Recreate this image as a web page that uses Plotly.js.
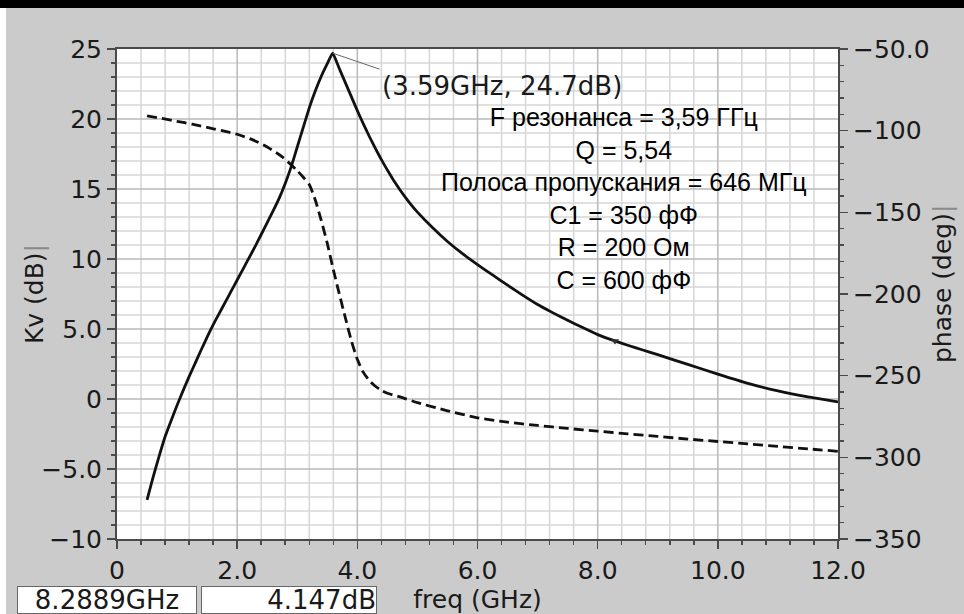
<!DOCTYPE html>
<html>
<head>
<meta charset="utf-8">
<script src="https://cdn.plot.ly/plotly-3.0.1.min.js"></script>
<style>
html,body{margin:0;padding:0;background:#cbcbcb;}
#wrap{position:relative;width:964px;height:614px;overflow:hidden;}
#chart{width:964px;height:614px;}
.topbar{position:absolute;left:0;top:0;width:964px;height:8px;background:#000;}
.leftstrip{position:absolute;left:0;top:8px;width:6px;height:606px;background:#fff;}
</style>
</head>
<body>
<div id="wrap"><div id="chart"></div><div class="topbar"></div><div class="leftstrip"></div></div>
<script>
// Gain curve Kv (dB) vs frequency (GHz)
const freqKv = [0.5,0.6,0.7,0.8,0.9,1.0,1.1,1.2,1.3,1.4,1.5,1.6,1.7,1.8,1.9,2.0,2.1,2.2,2.3,2.4,2.5,2.6,2.7,2.8,2.9,3.0,3.1,3.2,3.3,3.4,3.5,3.59,3.7,3.8,3.9,4.0,4.1,4.2,4.3,4.4,4.5,4.6,4.7,4.8,4.9,5.0,5.25,5.5,5.75,6.0,6.25,6.5,6.75,7.0,7.25,7.5,7.75,8.0,8.2889,8.5,8.75,9.0,9.5,10.0,10.5,11.0,11.5,12.0];
const kvDb   = [-7.2,-5.6,-4.1,-2.7,-1.55,-0.45,0.6,1.6,2.55,3.5,4.42,5.3,6.1,6.9,7.7,8.5,9.3,10.1,10.9,11.75,12.6,13.45,14.35,15.4,16.6,18.0,19.4,20.8,22.0,23.05,23.95,24.7,23.6,22.6,21.6,20.6,19.65,18.75,17.9,17.1,16.35,15.65,15.0,14.4,13.85,13.35,12.25,11.25,10.38,9.6,8.86,8.13,7.42,6.75,6.17,5.62,5.1,4.6,4.147,3.84,3.5,3.17,2.47,1.78,1.12,0.58,0.15,-0.2];
// Phase (deg) vs frequency (GHz)
const freqPh   = [0.5,0.75,1.0,1.25,1.5,1.75,2.0,2.25,2.5,2.75,3.0,3.1,3.2,3.3,3.4,3.5,3.6,3.7,3.8,3.9,4.0,4.1,4.2,4.3,4.4,4.5,4.71,5.0,5.5,6.0,6.5,7.0,7.5,8.0,8.5,9.0,9.5,10.0,10.5,11.0,11.5,12.0];
const phaseDeg = [-91,-92.5,-94.3,-96,-98,-100,-102.2,-105.5,-110,-116,-124.5,-128.5,-133,-142.5,-155,-169,-185,-200,-214.5,-228.5,-240,-248,-253,-256.5,-259,-260.8,-263,-266.5,-271.5,-275.8,-278.5,-280.5,-282.3,-284,-285.6,-287.2,-288.8,-290.3,-291.8,-293.3,-294.8,-296.3];
// Peak and cursor
const peakFreq = 3.59, peakKv = 24.7;
const cursorFreq = 8.2889, cursorKv = 4.147;
// Tick labels
const xTickVals = [0,2,4,6,8,10,12];
const xTickText = ["0","2.0","4.0","6.0","8.0","10.0","12.0"];
const yTickVals = [-10,-5,0,5,10,15,20,25];
const yTickText = ["\u221210","\u22125.0","0","5.0","10","15","20","25"];
const y2TickVals = [-350,-300,-250,-200,-150,-100,-50];
const y2TickText = ["\u2212350","\u2212300","\u2212250","\u2212200","\u2212150","\u2212100","\u221250.0"];
const infoLines = ["F резонанса = 3,59 ГГц","Q = 5,54","Полоса пропускания = 646 МГц","C1 = 350 фФ","R = 200 Ом","C = 600 фФ"];

const X_RANGE = [0, 12], Y_RANGE = [-10, 25], Y2_RANGE = [-350, -50];
const X_MINOR = 0.4, X_MAJOR = 2, Y_MINOR = 1, Y_MAJOR = 5;

function aliasMap(vals, texts) {
  const m = {};
  vals.forEach((v, i) => { m[String(v).replace("-", "\u2212")] = texts[i]; });
  return m;
}

const VF = "DejaVu Sans, Verdana, sans-serif";
const TXT = "#1a1a1a";
const AX = "#4a4a4a";
const GRID_MAJOR = "#b9b9b9";
const GRID_MINOR = "#d6d6d6";

// background + grid drawn as layout decorations derived from the axis spacing
const shapes = [{type: "rect", xref: "paper", yref: "paper", x0: 0, x1: 1, y0: 0, y1: 1, layer: "below", fillcolor: "#ffffff", line: {width: 0}}];
const gridMinor = [], gridMajor = [];
const nx = Math.round((X_RANGE[1] - X_RANGE[0]) / X_MINOR);
for (let i = 1; i < nx; i++) {
  const v = +(X_RANGE[0] + i * X_MINOR).toFixed(6);
  const major = Math.abs(v / X_MAJOR - Math.round(v / X_MAJOR)) < 1e-6;
  (major ? gridMajor : gridMinor).push({type: "line", xref: "x", yref: "paper", x0: v, x1: v, y0: 0, y1: 1, layer: "below",
    line: {color: major ? GRID_MAJOR : GRID_MINOR, width: 1.5}});
}
const ny = Math.round((Y_RANGE[1] - Y_RANGE[0]) / Y_MINOR);
for (let i = 1; i < ny; i++) {
  const v = Y_RANGE[0] + i * Y_MINOR;
  const major = v % Y_MAJOR === 0;
  (major ? gridMajor : gridMinor).push({type: "line", xref: "paper", yref: "y", x0: 0, x1: 1, y0: v, y1: v, layer: "below",
    line: {color: major ? GRID_MAJOR : GRID_MINOR, width: 1.5}});
}
shapes.push(...gridMinor, ...gridMajor);

const traces = [
  {x: freqKv, y: kvDb, type: "scatter", mode: "lines", line: {color: "#111", width: 2.8, shape: "spline", smoothing: 0.4}, yaxis: "y", hoverinfo: "skip"},
  {x: freqPh, y: phaseDeg, type: "scatter", mode: "lines", line: {color: "#111", width: 2.8, dash: "10px,5px", shape: "spline", smoothing: 0.6}, yaxis: "y2", hoverinfo: "skip"},
  {x: [cursorFreq], y: [cursorKv], type: "scatter", mode: "markers", marker: {symbol: "triangle-down", size: 7, color: "#333"}, yaxis: "y", hoverinfo: "skip"}
];

const layout = {
  width: 964, height: 614,
  paper_bgcolor: "#cbcbcb",
  plot_bgcolor: "rgba(0,0,0,0)",
  showlegend: false,
  margin: {l: 117, r: 126, t: 49, b: 75, pad: 0},
  font: {family: VF, color: TXT, size: 25},
  shapes: shapes,
  xaxis: {
    range: X_RANGE, tickmode: "linear", tick0: 0, dtick: X_MAJOR, labelalias: aliasMap(xTickVals, xTickText),
    ticks: "outside", ticklen: 8, tickwidth: 1.5, tickcolor: AX,
    showline: true, linecolor: AX, linewidth: 2, mirror: true,
    showgrid: false, zeroline: false,
    minor: {tickmode: "linear", tick0: 0, dtick: X_MINOR, ticklen: 4, tickcolor: AX, showgrid: false},
    tickfont: {family: VF, size: 25, color: TXT},
    title: {text: "freq (GHz)", font: {family: VF, size: 25, color: TXT}, standoff: 4}
  },
  yaxis: {
    range: Y_RANGE, tickmode: "linear", tick0: 0, dtick: Y_MAJOR, labelalias: aliasMap(yTickVals, yTickText),
    ticks: "outside", ticklen: 8, tickwidth: 1.5, tickcolor: AX,
    showline: true, linecolor: AX, linewidth: 2,
    showgrid: false, zeroline: false,
    minor: {tickmode: "linear", tick0: 0, dtick: Y_MINOR, ticklen: 4, tickcolor: AX, showgrid: false},
    tickfont: {family: VF, size: 25, color: TXT},
    title: {text: ""}
  },
  yaxis2: {
    range: Y2_RANGE, overlaying: "y", side: "right",
    tickmode: "linear", tick0: 0, dtick: 50, labelalias: aliasMap(y2TickVals, y2TickText),
    ticks: "outside", ticklen: 8, tickwidth: 1.5, tickcolor: AX,
    showline: true, linecolor: AX, linewidth: 2,
    showgrid: false, zeroline: false,
    minor: {tickmode: "linear", tick0: 0, dtick: 10, ticklen: 4, tickcolor: AX, showgrid: false},
    tickfont: {family: VF, size: 25, color: TXT},
    title: {text: ""}
  },
  annotations: [
    {x: -0.115, y: 0.5, xref: "paper", yref: "paper", showarrow: false, textangle: -90,
     text: "Kv (dB)<span style='color:#8a8a8a'>|</span>", xanchor: "center", yanchor: "middle",
     font: {family: VF, size: 25, color: TXT}},
    {x: 1.144, y: 0.52, xref: "paper", yref: "paper", showarrow: false, textangle: -90,
     text: "phase (deg)<span style='color:#8a8a8a'>|</span>", xanchor: "center", yanchor: "middle",
     font: {family: VF, size: 25, color: TXT}},
    {x: peakFreq, y: peakKv, xref: "x", yref: "y",
     text: "(" + peakFreq.toFixed(2) + "GHz, " + peakKv.toFixed(1) + "dB)",
     showarrow: true, arrowhead: 0, arrowwidth: 1, arrowcolor: "#666",
     ax: 47, ay: 16, xanchor: "left", yanchor: "top",
     font: {family: VF, size: 26, color: TXT}},
    {x: 0.703, y: 0.695, xref: "paper", yref: "paper", showarrow: false,
     text: infoLines.join("<br>"), align: "center", xanchor: "center", yanchor: "middle",
     font: {family: "Liberation Sans, Arial, sans-serif", size: 25, color: "#000"}},
    {x: -0.1382, y: -0.0959, xref: "paper", yref: "paper", showarrow: false,
     text: cursorFreq.toFixed(4) + "GHz", xanchor: "left", yanchor: "top", align: "center",
     width: 178, height: 26, bgcolor: "#ffffff", bordercolor: "#666", borderwidth: 1, borderpad: 0,
     font: {family: VF, size: 26, color: TXT}},
    {x: 0.1169, y: -0.0959, xref: "paper", yref: "paper", showarrow: false,
     text: cursorKv.toFixed(3) + "dB", xanchor: "left", yanchor: "top", align: "right",
     width: 174, height: 26, bgcolor: "#ffffff", bordercolor: "#666", borderwidth: 1, borderpad: 0,
     font: {family: VF, size: 26, color: TXT}}
  ]
};

Plotly.newPlot("chart", traces, layout, {staticPlot: true, displayModeBar: false});
</script>
</body>
</html>
